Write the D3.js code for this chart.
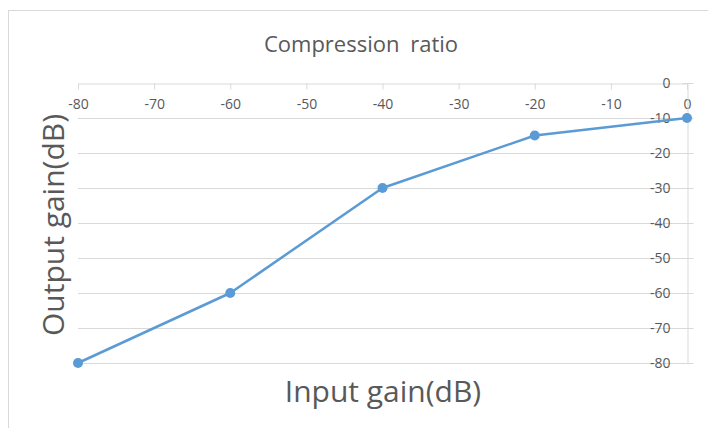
<!DOCTYPE html>
<html>
<head>
<meta charset="utf-8">
<script src="https://cdn.jsdelivr.net/npm/d3@7"></script>
<style>
  body { margin: 0; background: #fff; }
  text { font-family: "Open Sans", "Noto Sans", sans-serif; fill: #595959; }
</style>
</head>
<body>
<div id="chart"></div>
<script>
// data
const inputGain = [-80, -60, -40, -20, 0];
const outputGain = [-80, -60, -30, -15, -10];
const xTicks = [-80, -70, -60, -50, -40, -30, -20, -10, 0];
const yTicks = [0, -10, -20, -30, -40, -50, -60, -70, -80];

const width = 708, height = 428;
const plot = { left: 78, right: 687, top: 83, bottom: 363 };

const svg = d3.select("#chart").append("svg")
  .attr("width", width).attr("height", height);

// outer chart frame
svg.append("rect")
  .attr("x", 8.5).attr("y", 10.5)
  .attr("width", 720).attr("height", 440)
  .attr("fill", "none").attr("stroke", "#d9d9d9");

const x = d3.scaleLinear().domain([-80, 0]).range([plot.left, plot.right]);
const y = d3.scaleLinear().domain([-80, 0]).range([plot.bottom, plot.top]);
const fmt = d => String(d); // plain hyphen, like the original

// gridlines
svg.append("g").selectAll("line")
  .data(yTicks.filter(d => d !== 0))
  .join("line")
  .attr("x1", plot.left).attr("x2", plot.right)
  .attr("y1", d => Math.round(y(d)) + 0.5).attr("y2", d => Math.round(y(d)) + 0.5)
  .attr("stroke", "#d9d9d9");

// x axis on top, ticks pointing down
const xAxis = svg.append("g")
  .attr("transform", `translate(0,${plot.top + 0.5})`)
  .call(d3.axisBottom(x).tickValues(xTicks).tickFormat(fmt)
    .tickSize(6).tickSizeOuter(0).tickPadding(10));
xAxis.select(".domain").attr("stroke", "#d9d9d9");
xAxis.selectAll(".tick line").attr("stroke", "#d9d9d9");
xAxis.selectAll("text").attr("font-size", 14).attr("fill", "#595959");

// y axis on right, labels left of the line
const yAxis = svg.append("g")
  .attr("transform", `translate(${plot.right + 0.5},0)`)
  .call(d3.axisLeft(y).tickValues(yTicks).tickFormat(fmt).tickSize(0).tickPadding(17));
yAxis.select(".domain").attr("stroke", "#d9d9d9");
yAxis.selectAll(".tick line").remove();
yAxis.selectAll(".tick").append("line")
  .attr("x1", -5).attr("x2", 6).attr("stroke", "#d9d9d9");
yAxis.selectAll("text").attr("font-size", 14).attr("fill", "#595959");

// series
const pts = inputGain.map((d, i) => [d, outputGain[i]]);
svg.append("path")
  .datum(pts)
  .attr("fill", "none")
  .attr("stroke", "#5b9bd5")
  .attr("stroke-width", 2.5)
  .attr("stroke-linejoin", "round")
  .attr("d", d3.line().x(d => x(d[0])).y(d => y(d[1])));

svg.append("g").selectAll("circle")
  .data(pts)
  .join("circle")
  .attr("cx", d => x(d[0])).attr("cy", d => y(d[1]))
  .attr("r", 5)
  .attr("fill", "#5b9bd5");

// titles
svg.append("text")
  .attr("x", 361).attr("y", 52)
  .attr("text-anchor", "middle")
  .attr("font-size", 22)
  .attr("word-spacing", 5)
  .text("Compression ratio");

svg.append("text")
  .attr("x", 383).attr("y", 402)
  .attr("text-anchor", "middle")
  .attr("font-size", 30)
  .text("Input gain(dB)");

svg.append("text")
  .attr("transform", "translate(64,225) rotate(-90)")
  .attr("text-anchor", "middle")
  .attr("font-size", 30)
  .text("Output gain(dB)");
</script>
</body>
</html>
